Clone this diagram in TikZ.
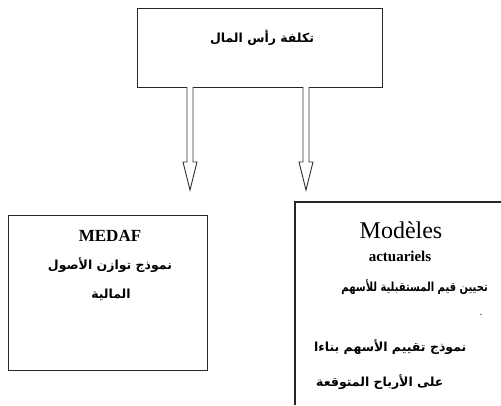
\documentclass[tikz,border=0pt]{standalone}
\usepackage{fontspec}
\usetikzlibrary{calc}
\setmainfont{Liberation Serif}
\newfontfamily\arabicfont[Script=Arabic]{DejaVu Sans}
\TeXXeTstate=1
\begin{document}
\begin{tikzpicture}[x=1pt,y=-1pt,
  box/.style={draw=black!85, line width=1.4pt, inner sep=0pt},
  ar/.style={font=\arabicfont\bfseries\fontsize{12.5}{14}\selectfont, inner sep=0pt},
  arrowline/.style={draw=black!80, line width=0.9pt, fill=white, line join=miter}]
\useasboundingbox (0,0) rectangle (501,405);
% top box
\node[box, minimum width=245pt, minimum height=79pt, anchor=north west] (top) at (137,8) {};
\node[ar] (toptxt) at (262,38) {\beginR تكلفة رأس المال\endR};
% left box
\node[box, minimum width=199pt, minimum height=155pt, anchor=north west] (left) at (8,215) {};
\node[font=\bfseries\fontsize{17}{19}\selectfont, inner sep=0pt] (medaf) at (110,236) {MEDAF};
\node[ar] (l1) at (110,265) {\beginR نموذج توازن الأصول\endR};
\node[ar] (l2) at (111,295) {\beginR المالية\endR};
% right box (runs off the picture)
\coordinate (rb1) at (295,405);
\coordinate (rb2) at (295,202);
\coordinate (rb3) at (501,202);
\draw[draw=black!85, line width=1.4pt] (rb1) -- (rb2) -- (rb3);
\node[font=\fontsize{24}{26}\selectfont, inner sep=0pt] (mod) at (401,230) {Modèles};
\node[font=\bfseries\fontsize{15}{17}\selectfont, inner sep=0pt] (act) at (400,256) {actuariels};
\node[ar, anchor=east] (r1) at (488,287) {\scalebox{0.8}[1]{\beginR تحيين قيم المستقبلية للأسهم\endR}};
\node[inner sep=0pt] (dot) at (481,315) {.};
\node[ar, anchor=west] (r2) at (314,347) {\beginR نموذج تقييم الأسهم بناءا\endR};
\node[ar, anchor=west] (r3) at (316,382) {\beginR على الأرباح المتوقعة\endR};
% arrows
\coordinate (s1) at (190,87);
\coordinate (e1) at (190,190);
\coordinate (s2) at (306,87);
\coordinate (e2) at (306,190);
\foreach \s/\e in {s1/e1, s2/e2}{
  \draw[arrowline] let \p1=(\s), \p2=(\e) in
    (\x1-3pt,\y1) -- (\x1-3pt,\y2+28pt) -- (\x1-7pt,\y2+28pt) -- (\x2,\y2)
    -- (\x1+7pt,\y2+28pt) -- (\x1+3pt,\y2+28pt) -- (\x1+3pt,\y1);
}
\end{tikzpicture}
\end{document}
